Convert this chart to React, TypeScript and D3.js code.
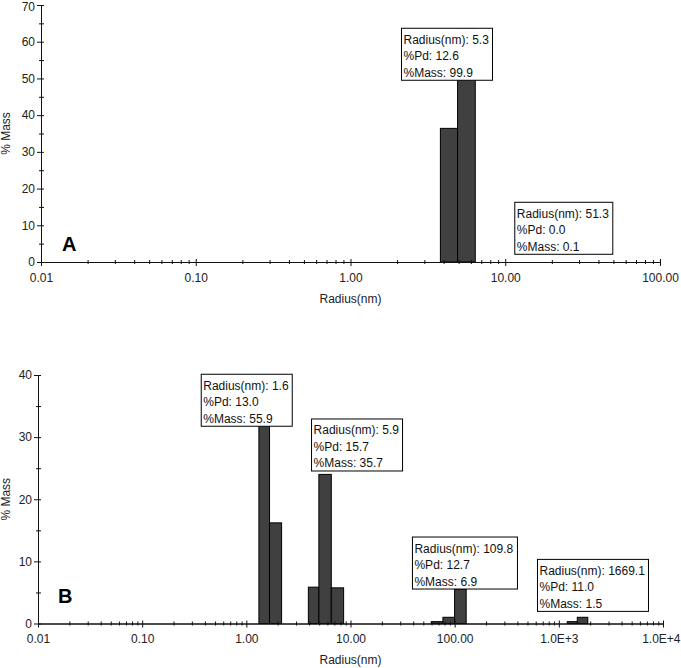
import React, { useEffect, useRef } from 'react';
import * as d3 from 'd3';

const W = 681;
const H = 668;
const FONT = "Arial, 'Liberation Sans', sans-serif";

// panel A - size distribution bins (radius edges in nm, % mass)
const aBinLo = [3.81, 4.92];
const aBinHi = [4.92, 6.40];
const aMass = [36.4, 63.5];
const aTicks = [0.01, 0.1, 1, 10, 100];
const aTickLabels = ['0.01', '0.10', '1.00', '10.00', '100.00'];
const aYTicks = [0, 10, 20, 30, 40, 50, 60, 70];
const aPeakRadius = [5.3, 51.3];
const aPeakPd = [12.6, 0.0];
const aPeakMass = [99.9, 0.1];

// panel B
const bBinLo = [1.32, 1.67, 3.94, 4.97, 6.54, 59.6, 77.1, 99.8, 1205, 1503];
const bBinHi = [1.67, 2.18, 4.97, 6.54, 8.59, 77.1, 99.8, 129, 1503, 1897];
const bMass = [39.7, 16.2, 5.85, 24.0, 5.74, 0.3, 1.0, 5.5, 0.3, 1.0];
const bTicks = [0.01, 0.1, 1, 10, 100, 1000, 10000];
const bTickLabels = ['0.01', '0.10', '1.00', '10.00', '100.00', '1.0E+3', '1.0E+4'];
const bYTicks = [0, 10, 20, 30, 40];
const bPeakRadius = [1.6, 5.9, 109.8, 1669.1];
const bPeakPd = [13.0, 15.7, 12.7, 11.0];
const bPeakMass = [55.9, 35.7, 6.9, 1.5];

const panels = [
  {
    letter: 'A', left: 41, right: 660, top: 5, bottom: 262, letterX: 62, letterY: 251,
    lo: aBinLo, hi: aBinHi, mass: aMass, ticks: aTicks, tickLabels: aTickLabels, yTicks: aYTicks,
    peakR: aPeakRadius, peakPd: aPeakPd, peakM: aPeakMass,
    // where each annotation box's top-left corner sits, in data units [radius, %mass]
    notePos: [[2.12, 63.8], [11.44, 16.4]],
  },
  {
    letter: 'B', left: 38, right: 663, top: 375, bottom: 623.5, letterX: 58, letterY: 603,
    lo: bBinLo, hi: bBinHi, mass: bMass, ticks: bTicks, tickLabels: bTickLabels, yTicks: bYTicks,
    peakR: bPeakRadius, peakPd: bPeakPd, peakM: bPeakMass,
    notePos: [[0.365, 40.2], [4.18, 33.0], [38.9, 14.0], [617, 10.4]],
  },
];

function drawPanel(svg: any, p: any) {
  const x = d3.scaleLog()
    .domain([p.ticks[0], p.ticks[p.ticks.length - 1]])
    .range([p.left, p.right]);
  const yMax = p.yTicks[p.yTicks.length - 1];
  const y = d3.scaleLinear().domain([0, yMax]).range([p.bottom, p.top]);

  const g = svg.append('g');

  // bars
  g.append('g')
    .selectAll('rect')
    .data(d3.range(p.mass.length))
    .join('rect')
    .attr('x', (i: number) => x(p.lo[i]))
    .attr('width', (i: number) => x(p.hi[i]) - x(p.lo[i]))
    .attr('y', (i: number) => y(p.mass[i]))
    .attr('height', (i: number) => y(0) - y(p.mass[i]))
    .attr('fill', '#404040')
    .attr('stroke', '#000')
    .attr('stroke-width', 1);

  // x axis, minor ticks 2..9 of each decade
  const minor: number[] = [];
  for (let i = 0; i < p.ticks.length - 1; i++) {
    for (let m = 2; m <= 9; m++) minor.push(p.ticks[i] * m);
  }
  g.append('g')
    .attr('transform', `translate(0,${p.bottom})`)
    .call(d3.axisBottom(x).tickValues(minor).tickFormat(() => '').tickSizeOuter(0))
    .attr('color', '#111')
    .call((a: any) => a.selectAll('.tick line').attr('y1', -2).attr('y2', 2));

  const last = p.ticks.length - 1;
  g.append('g')
    .attr('transform', `translate(0,${p.bottom})`)
    .call(d3.axisBottom(x).tickValues(p.ticks)
      .tickFormat((d: any, i: number) => p.tickLabels[i]).tickSizeOuter(0))
    .attr('color', '#111')
    .attr('font-family', FONT)
    .attr('font-size', 12)
    .call((a: any) => a.selectAll('.tick line').attr('y1', -3).attr('y2', 4))
    .call((a: any) => a.selectAll('.tick text').attr('y', 11).attr('fill', '#222'))
    // the rightmost label sits against the page edge
    .call((a: any) => a.selectAll('.tick text')
      .filter((d: any, i: number) => i === last && x(d) + 20 > W)
      .attr('text-anchor', 'end')
      .attr('x', W - 1 - x(p.ticks[last])));

  // y axis
  const yMinor = p.yTicks.slice(1).map((t: number) => t - 5);
  g.append('g')
    .attr('transform', `translate(${p.left},0)`)
    .call(d3.axisLeft(y).tickValues(yMinor).tickFormat(() => '').tickSizeOuter(0))
    .attr('color', '#111')
    .call((a: any) => a.selectAll('.tick line').attr('x1', -2).attr('x2', 3));

  g.append('g')
    .attr('transform', `translate(${p.left},0)`)
    .call(d3.axisLeft(y).tickValues(p.yTicks).tickFormat(d3.format('d')).tickSizeOuter(0))
    .attr('color', '#111')
    .attr('font-family', FONT)
    .attr('font-size', 12)
    .call((a: any) => a.selectAll('.tick line').attr('x1', -4).attr('x2', 3))
    .call((a: any) => a.selectAll('.tick text').attr('x', -6).attr('fill', '#222'))
    // keep the top label inside the page
    .call((a: any) => a.selectAll('.tick text')
      .filter((d: any) => y(d) < 8)
      .attr('y', 2));

  // axis titles
  g.append('text')
    .attr('x', (p.left + p.right) / 2)
    .attr('y', p.bottom + 40.5)
    .attr('text-anchor', 'middle')
    .attr('font-family', FONT)
    .attr('font-size', 12)
    .attr('fill', '#222')
    .text('Radius(nm)');

  g.append('text')
    .attr('transform', `translate(10,${(p.top + p.bottom) / 2}) rotate(-90)`)
    .attr('text-anchor', 'middle')
    .attr('font-family', FONT)
    .attr('font-size', 12)
    .attr('fill', '#222')
    .text('% Mass');

  g.append('text')
    .attr('x', p.letterX)
    .attr('y', p.letterY)
    .attr('font-family', FONT)
    .attr('font-size', 20)
    .attr('font-weight', 'bold')
    .attr('fill', '#000')
    .text(p.letter);

  // peak annotation boxes
  p.peakR.forEach((r: number, i: number) => {
    const [nr, nm] = p.notePos[i];
    const box = g.append('g').attr('transform', `translate(${x(nr)},${y(nm)})`);
    const rect = box.append('rect');
    const lines = [
      `Radius(nm): ${r.toFixed(1)}`,
      `%Pd: ${p.peakPd[i].toFixed(1)}`,
      `%Mass: ${p.peakM[i].toFixed(1)}`,
    ];
    let maxW = 0;
    lines.forEach((t, k) => {
      const txt = box.append('text')
        .attr('x', 2.5)
        .attr('y', 16 + k * 16.5)
        .attr('font-family', FONT)
        .attr('font-size', 12)
        .attr('fill', '#111')
        .text(t);
      maxW = Math.max(maxW, (txt.node() as SVGTextElement).getComputedTextLength());
    });
    rect.attr('x', 0.5).attr('y', 0.5)
      .attr('width', Math.round(maxW + 6))
      .attr('height', 52)
      .attr('fill', '#fff')
      .attr('stroke', '#000')
      .attr('stroke-width', 1);
  });
}

export default function App() {
  const svgRef = useRef<SVGSVGElement>(null);

  useEffect(() => {
    document.body.style.margin = '0';
    const svg = d3.select(svgRef.current);
    svg.selectAll('*').remove();
    svg.append('rect').attr('width', W).attr('height', H).attr('fill', '#fff');
    panels.forEach(p => drawPanel(svg, p));
  }, []);

  return (
    <svg ref={svgRef} width={W} height={H} style={{ display: 'block' }} />
  );
}
